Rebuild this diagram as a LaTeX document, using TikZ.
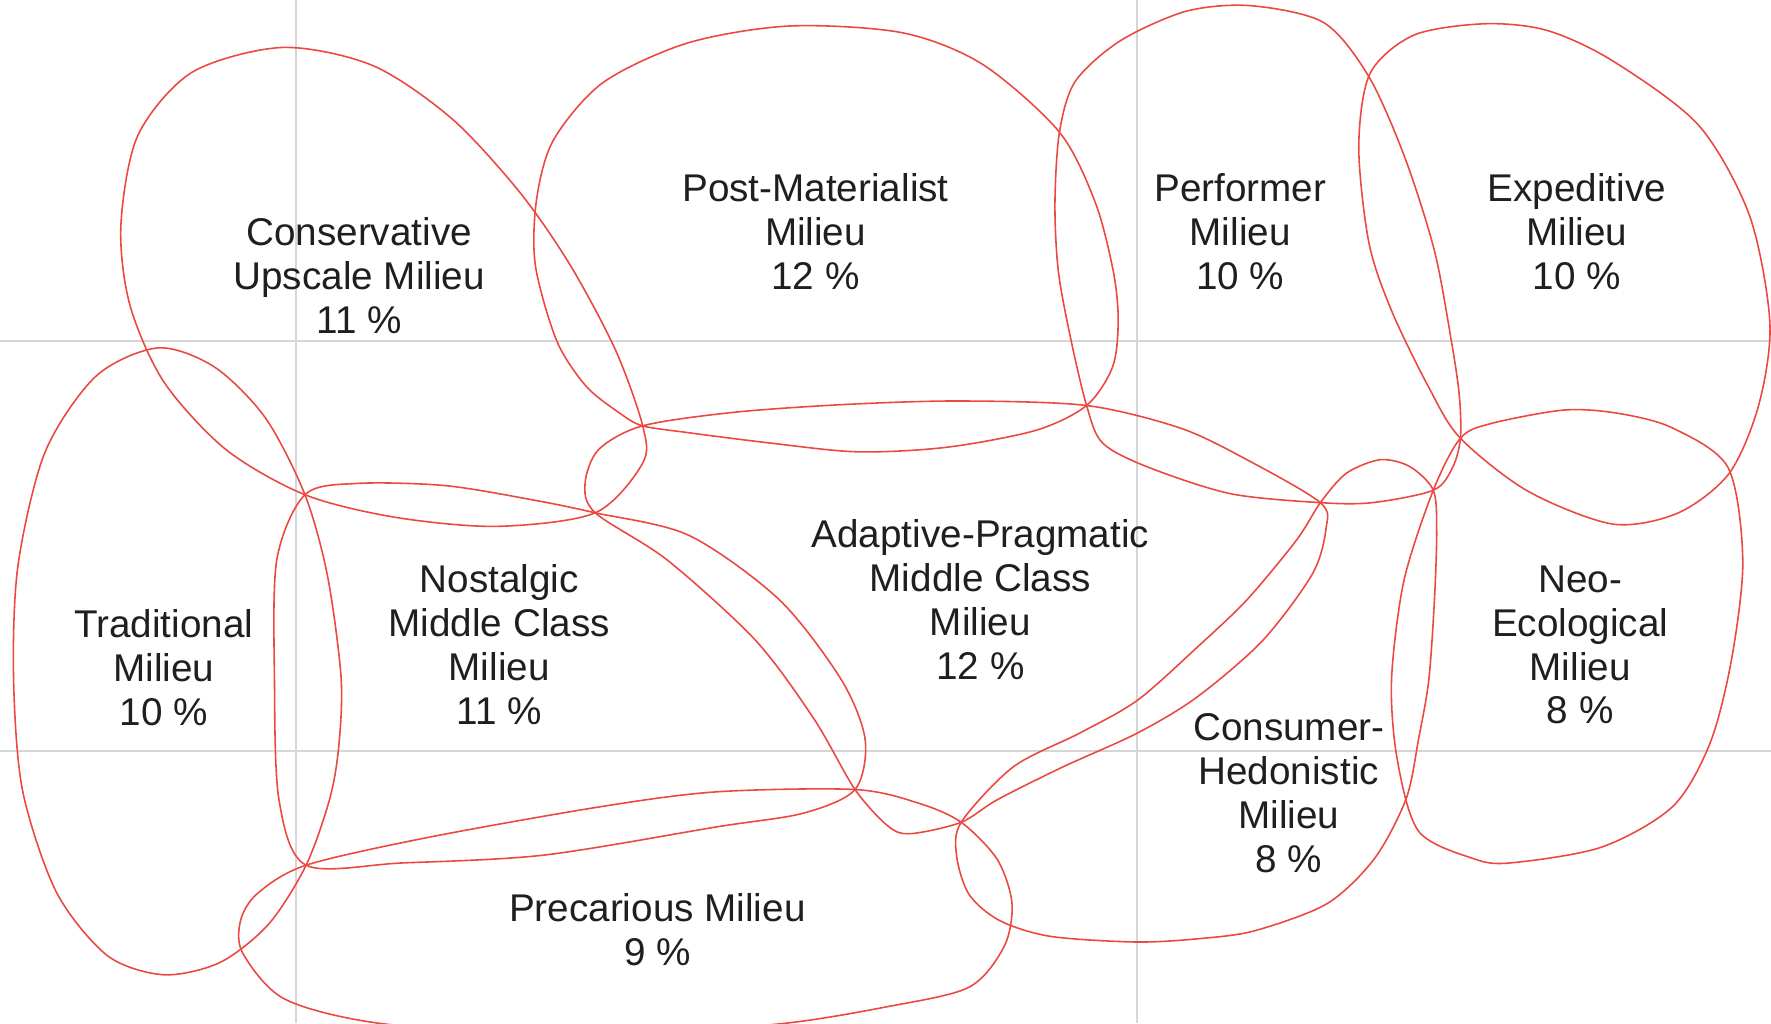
\documentclass[tikz,border=0pt]{standalone}
\usepackage{fontspec}
\setmainfont{Liberation Sans}
\definecolor{milieured}{RGB}{234,72,64}
\definecolor{gridgray}{RGB}{214,214,214}
\tikzset{
  zone/.style={draw=milieured, line width=0.45pt},
  axis/.style={draw=gridgray, line width=0.6pt},
  milieutext/.style={align=center, text=black!88, font=\fontsize{11}{12.5}\selectfont},
}
\begin{document}
\begin{tikzpicture}[x=0.11295mm, y=-0.11295mm]
  \useasboundingbox (0,0) rectangle (1568,906);
  \clip (0,0) rectangle (1568,906);
  \draw[axis] (262,0) -- (262,906) (1007,0) -- (1007,906)
    (0,302) -- (1568,302) (0,665) -- (1568,665);
  \coordinate (j1) at (270,438);
  \coordinate (j2) at (569,377);
  \coordinate (j3) at (527,454);
  \coordinate (j4) at (962,359);
  \coordinate (j5) at (1169,445);
  \coordinate (j6) at (1269,434);
  \coordinate (j7) at (1293,388);
  \coordinate (j8) at (271,766);
  \coordinate (j9) at (757,699);
  \coordinate (j10) at (851,728);
  \coordinate (j11) at (938,117);
  \begin{scope}[zone]
    \draw plot[smooth cycle] coordinates {(250,42) (330,58) (400,105) (460,170) (505,235)
      (545,310) (j2) (569,410) (j3) (440,466) (350,458) (j1) (200,398) (145,338)
      (115,270) (107,200) (122,120) (170,64)};
    \draw plot[smooth cycle] coordinates {(475,177) (490,124) (534,73) (609,38) (699,23)
      (799,29) (870,57) (j11) (970,180) (986,242) (990,285) (985,325)
      (j4) (917,381) (838,396) (759,400) (680,392) (609,383) (j2) (549,366) (519,342)
      (493,302) (474,235)};
    \draw plot[smooth cycle] coordinates {(1107,5) (1172,20) (1212,68)
      (1244,140) (1270,222) (1285,302) (1292,350) (j7) (1286,414) (j6) (1215,445) (j5)
      (1089,437) (1015,413) (976,392) (j4) (948,300) (937,240) (934,180) (j11)
      (952,72) (992,36) (1050,10)};
    \draw plot[smooth cycle] coordinates {(1315,21) (1252,31) (1213,65)
      (1203,130) (1212,215) (1232,275) (1265,343) (j7) (1353,435) (1428,464) (1486,454)
      (1531,419) (1557,359) (1567,286) (1549,191) (1504,111) (1428,54) (1370,27)};
    \draw plot[smooth cycle] coordinates {(140,308) (190,325) (235,370) (j1) (290,510)
      (302,600) (300,660) (292,707) (j8) (238,818) (195,852) (145,863) (95,846)
      (50,790) (20,700) (12,600) (16,500) (40,400) (85,333)};
    \draw plot[smooth cycle] coordinates {(j1) (316,428) (395,430) (474,443) (j3)
      (610,474) (690,531) (745,602) (766,655) (j9) (711,720) (635,732) (482,757)
      (356,764) (j8) (247,708) (243,602) (245,496)};
    \draw plot[smooth cycle] coordinates {(j2) (650,365) (750,358) (850,355) (j4)
      (1045,379) (1104,407) (j5) (1174,468) (1162,508) (1118,567) (1060,617)
      (1007,649) (941,679) (883,708) (j10) (807,738) (787,732) (j9) (721,637) (669,567)
      (591,496) (j3) (518,428) (530,398)};
    \draw plot[smooth cycle] coordinates {(j5) (1192,419) (1222,407) (1248,413) (j6)
      (1272,470) (1270,531) (1265,602) (1256,654) (1245,707) (1217,760) (1175,800)
      (1111,824) (1062,831) (1006,834) (930,829) (885,815) (858,792) (847,758) (j10)
      (897,679) (956,649) (1007,620) (1060,573) (1104,531) (1148,478)};
    \draw plot[smooth cycle] coordinates {(1385,363) (1433,366) (1481,379) (1530,414)
      (1543,496) (1533,584) (1514,658) (1481,714) (1418,750) (1337,764) (1304,760)
      (1256,736) (1237,672) (1232,602) (1243,514) (j6) (j7) (1320,375)};
    \draw plot[smooth cycle] coordinates {(j8) (381,741) (533,714) (635,701) (j9)
      (813,711) (j10) (883,761) (896,800) (889,838) (858,874) (787,891) (685,907)
      (520,916) (344,907) (253,885) (215,844) (213,815) (228,791)};
  \end{scope}
  \node[milieutext] (cu) at (318,244) {Conservative\\Upscale Milieu\\11 \%};
  \node[milieutext] (pm) at (722,205) {Post-Materialist\\Milieu\\12 \%};
  \node[milieutext] (pf) at (1098,205) {Performer\\Milieu\\10 \%};
  \node[milieutext] (ex) at (1396,205) {Expeditive\\Milieu\\10 \%};
  \node[milieutext] (tr) at (145,591) {Traditional\\Milieu\\10 \%};
  \node[milieutext] (no) at (442,571) {Nostalgic\\Middle Class\\Milieu\\11 \%};
  \node[milieutext] (ap) at (868,531) {Adaptive-Pragmatic\\Middle Class\\Milieu\\12 \%};
  \node[milieutext] (ne) at (1399,571) {Neo-\\Ecological\\Milieu\\8 \%};
  \node[milieutext] (ch) at (1141,702) {Consumer-\\Hedonistic\\Milieu\\8 \%};
  \node[milieutext] (pr) at (582,823) {Precarious Milieu\\9 \%};
\end{tikzpicture}
\end{document}
